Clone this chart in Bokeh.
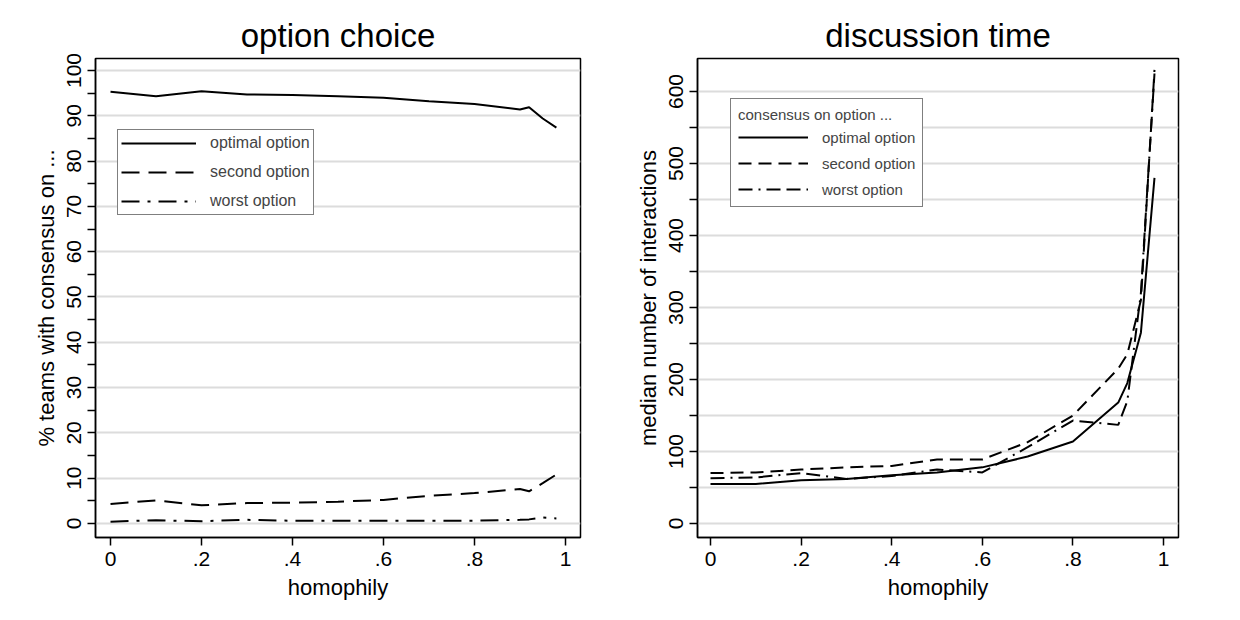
from bokeh.plotting import figure
from bokeh.layouts import row
from bokeh.models import FixedTicker, Legend, Range1d
from bokeh.embed import file_html
from bokeh.resources import INLINE

# ---- data ----
homophily = [0, .1, .2, .3, .4, .5, .6, .7, .8, .9, .92, .95, .98]

pct_optimal = [95.3, 94.3, 95.4, 94.7, 94.6, 94.3, 94.0, 93.2, 92.6, 91.4, 91.9, 89.4, 87.4]
pct_second = [4.3, 5.1, 4.0, 4.5, 4.6, 4.8, 5.2, 6.1, 6.7, 7.6, 7.1, 8.9, 10.8]
pct_worst = [0.4, 0.7, 0.5, 0.8, 0.6, 0.6, 0.6, 0.6, 0.6, 0.8, 0.9, 1.3, 1.1]

time_optimal = [55, 55, 60, 62, 67, 71, 78, 93, 114, 168, 195, 265, 480]
time_second = [70, 71, 75, 78, 80, 89, 89, 113, 150, 215, 235, 310, 630]
time_worst = [63, 64, 70, 62, 66, 75, 71, 106, 143, 137, 170, 320, 625]

x_ticks = [0, .2, .4, .6, .8, 1]
x_tick_labels = ["0", ".2", ".4", ".6", ".8", "1"]

left_title = "option choice"
right_title = "discussion time"
left_ylabel = "% teams with consensus on ..."
right_ylabel = "median number of interactions"
xlabel = "homophily"
series_names = ["optimal option", "second option", "worst option"]
legend_title = "consensus on option ..."

FONT = "Liberation Sans"


def style(p, title, ylabel, yticks, yminor, ygrid):
    p.title.text = title
    p.title.align = "center"
    p.title.text_font = FONT
    p.title.text_font_size = "33px"
    p.title.text_font_style = "normal"
    p.title.text_color = "black"
    p.outline_line_color = "black"
    p.outline_line_width = 1.5
    p.background_fill_color = "white"
    p.border_fill_color = "white"

    xa = p.xaxis[0]
    xa.ticker = FixedTicker(ticks=x_ticks)
    xa.major_label_overrides = {t: l for t, l in zip(x_ticks, x_tick_labels)}
    xa.axis_label = xlabel
    ya = p.yaxis[0]
    ya.ticker = FixedTicker(ticks=yticks, minor_ticks=yminor)
    ya.axis_label = ylabel
    ya.major_label_orientation = "vertical"
    for a in (xa, ya):
        a.axis_line_color = "black"
        a.axis_line_width = 1.5
        a.major_tick_line_color = "black"
        a.major_tick_line_width = 1.5
        a.major_tick_out = 8
        a.major_tick_in = 0
        a.minor_tick_line_color = "black"
        a.minor_tick_line_width = 1.5
        a.minor_tick_out = 8
        a.minor_tick_in = 0
        a.major_label_text_font = FONT
        a.major_label_text_font_size = "21px"
        a.major_label_text_color = "black"
        a.axis_label_text_font = FONT
        a.axis_label_text_font_size = "22px"
        a.axis_label_text_font_style = "normal"
        a.axis_label_text_color = "black"
        a.axis_label_standoff = 6
        a.major_label_standoff = 6
    p.xgrid.visible = False
    p.ygrid.ticker = FixedTicker(ticks=ygrid)
    p.ygrid.grid_line_color = "#dcdcdc"
    p.ygrid.grid_line_width = 2


# ---- left panel ----
pl = figure(width=612, height=604, output_backend="svg", toolbar_location=None,
            x_range=Range1d(-0.033, 1.033), y_range=Range1d(-3.1, 102.65),
            min_border_left=95, min_border_right=32, min_border_top=58, min_border_bottom=67)
style(pl, left_title, left_ylabel, list(range(0, 101, 10)), list(range(5, 100, 10)),
      list(range(0, 101, 10)))
r1 = pl.line(homophily, pct_optimal, line_color="black", line_width=2)
r2 = pl.line(homophily, pct_second, line_color="black", line_width=2, line_dash="18 9")
r3 = pl.line(homophily, pct_worst, line_color="black", line_width=2, line_dash="18 8 3 8")
leg_l = Legend(items=[(series_names[0], [r1]), (series_names[1], [r2]), (series_names[2], [r3])],
               location=(22, 322), glyph_width=75, glyph_height=20, label_standoff=14,
               spacing=9, padding=3, margin=0,
               label_text_font=FONT, label_text_font_size="16px",
               border_line_color="black", border_line_width=1.2,
               background_fill_color="white", background_fill_alpha=1)
pl.add_layout(leg_l, "center")

# ---- right panel ----
pr = figure(width=612, height=604, output_backend="svg", toolbar_location=None,
            x_range=Range1d(-0.0287, 1.033), y_range=Range1d(-19.4, 645.8),
            min_border_left=85, min_border_right=46, min_border_top=58, min_border_bottom=67)
style(pr, right_title, right_ylabel, list(range(0, 601, 100)), list(range(50, 650, 100)),
      list(range(0, 601, 50)))
s1 = pr.line(homophily, time_optimal, line_color="black", line_width=2)
s2 = pr.line(homophily, time_second, line_color="black", line_width=2, line_dash="13 7")
s3 = pr.line(homophily, time_worst, line_color="black", line_width=2, line_dash="14 6 2 6 14 6")
leg_r = Legend(items=[(series_names[0], [s1]), (series_names[1], [s2]), (series_names[2], [s3])],
               location=(33, 330), glyph_width=70, glyph_height=20, label_standoff=14,
               spacing=6, padding=7, margin=0, title=legend_title,
               title_text_font=FONT, title_text_font_size="15px", title_text_font_style="normal",
               title_standoff=4,
               label_text_font=FONT, label_text_font_size="15px",
               border_line_color="black", border_line_width=1.2,
               background_fill_color="white", background_fill_alpha=1)
pr.add_layout(leg_r, "center")

layout = row(pl, pr)
open("out.html", "w").write(file_html(layout, INLINE))
